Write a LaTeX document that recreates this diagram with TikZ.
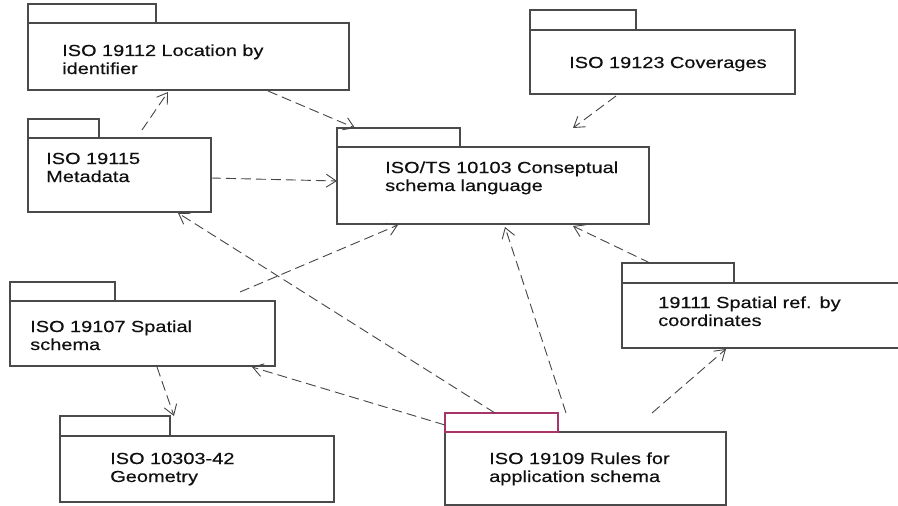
\documentclass[tikz,border=0pt]{standalone}
\usepackage{fontspec}
\setmainfont[FakeStretch=1.25,FakeBold=0.3]{Liberation Sans}
\usetikzlibrary{arrows.meta,calc}
\definecolor{boxgray}{HTML}{4A4A4A}
\definecolor{linkgray}{HTML}{454545}
\definecolor{tabred}{HTML}{A8356A}
\definecolor{inkblack}{HTML}{101010}

\begin{document}
\begin{tikzpicture}[x=1pt,y=-1pt,
  pkg/.style={draw=boxgray, line width=1.2pt, fill=white, inner sep=0pt, outer sep=0pt},
  body/.style={pkg, anchor=north west},
  tab/.style={pkg, anchor=south west, minimum height=19pt},
  label/.style={anchor=base west, inner sep=0pt, text=inkblack,
    font=\fontsize{16}{18}\selectfont, text width=330pt, align=left},
  dep/.style={draw=linkgray, line width=0.9pt, dash pattern=on 10pt off 5pt,
    -{Straight Barb[length=10pt,width=13pt,line width=0.9pt]}}]

\useasboundingbox (0,0) rectangle (898,506);

\begin{scope}
\clip (0,0) rectangle (898,506);

% ISO 19112
\node[body, minimum width=321pt, minimum height=67pt] (b12) at (28,23) {};
\node[tab, minimum width=128pt] (tab12) at (b12.north west) {};
\node[label] (t12) at (62,56) {ISO 19112 Location by\\identifier};

% ISO 19115
\node[body, minimum width=183pt, minimum height=74pt] (b15) at (28,138) {};
\node[tab, minimum width=71pt] (tab15) at (b15.north west) {};
\node[label] (t15) at (46,164) {ISO 19115\\Metadata};

% ISO/TS 10103
\node[body, minimum width=312pt, minimum height=77pt] (b103) at (337,147) {};
\node[tab, minimum width=123pt] (tab103) at (b103.north west) {};
\node[label] (t103) at (385,173) {ISO/TS 10103 Conseptual\\schema language};

% ISO 19123
\node[body, minimum width=265pt, minimum height=64pt] (b23) at (530,30) {};
\node[tab, minimum width=106pt, minimum height=20pt] (tab23) at (b23.north west) {};
\node[label] (t23) at (569,68) {ISO 19123 Coverages};

% ISO 19107
\node[body, minimum width=265pt, minimum height=65pt] (b07) at (10,301) {};
\node[tab, minimum width=105pt] (tab07) at (b07.north west) {};
\node[label] (t07) at (30,332) {ISO 19107 Spatial\\schema};

% ISO 10303-42
\node[body, minimum width=274pt, minimum height=66pt] (b303) at (60,436) {};
\node[tab, minimum width=110pt, minimum height=20pt] (tab303) at (b303.north west) {};
\node[label] (t303) at (110,464) {ISO 10303-42\\Geometry};

% 19111
\node[body, minimum width=290pt, minimum height=65pt] (b11) at (622,283) {};
\node[tab, minimum width=112pt, minimum height=20pt] (tab11) at (b11.north west) {};
\node[label] (t11) at (658,308) {19111 Spatial ref. by\\coordinates};

% ISO 19109
\node[body, minimum width=281pt, minimum height=73pt] (b09) at (445,432) {};
\node[tab, draw=tabred, minimum width=113pt] (tab09) at (b09.north west) {};
\node[label] (t09) at (489,464) {ISO 19109 Rules for\\application schema};

% dependencies
\draw[dep] ([shift={(114,-8)}]b15.north west) -- ([shift={(140,2)}]b12.south west);
\draw[dep] ([shift={(240,1)}]b12.south west) -- ([shift={(18,0)}]tab103.north west);
\draw[dep] ([shift={(0,40)}]b15.north east) -- ([shift={(0,34)}]b103.north west);
\draw[dep] ([shift={(86,2)}]b23.south west) -- ([shift={(236,-19)}]b103.north west);
\draw[dep] ([shift={(50,0)}]tab09.north west) -- ([shift={(150,1)}]b15.south west);
\draw[dep] ([shift={(230,-9)}]b07.north west) -- ([shift={(61,1)}]b103.south west);
\draw[dep] ([shift={(121,0)}]tab09.north west) -- ([shift={(168,3)}]b103.south west);
\draw[dep] ([shift={(28,0)}]tab11.north west) -- ([shift={(236,2)}]b103.south west);
\draw[dep] ([shift={(207,-19)}]b09.north west) -- ([shift={(104,1)}]b11.south west);
\draw[dep] ([shift={(0,-7)}]tab09.south west) -- ([shift={(-23,1)}]b07.south east);
\draw[dep] ([shift={(147,1)}]b07.south west) -- ([shift={(114,0)}]tab303.north west);
\end{scope}
\end{tikzpicture}
\end{document}
